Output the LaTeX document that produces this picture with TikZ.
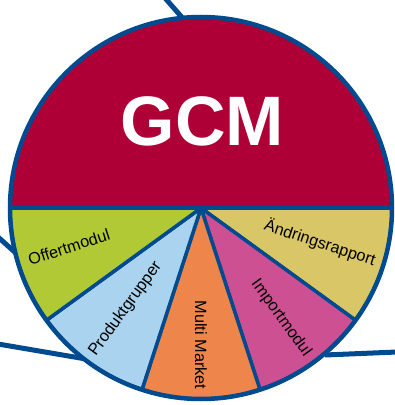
\documentclass[tikz,border=0pt]{standalone}
\usepackage{fontspec}
\setmainfont{Liberation Sans}
\usetikzlibrary{calc}
\definecolor{gcmred}{HTML}{AE0036}
\definecolor{rimblue}{HTML}{004A8F}
\definecolor{sgreen}{HTML}{B1C935}
\definecolor{sblue}{HTML}{A9D3EE}
\definecolor{sorange}{HTML}{EE854B}
\definecolor{spink}{HTML}{CD5093}
\definecolor{syellow}{HTML}{D9C767}
\begin{document}
\begin{tikzpicture}[x=1pt,y=1pt,
  rim/.style={draw=rimblue, line width=4.5pt},
  spoke/.style={draw=rimblue, line width=3.5pt, line join=round},
  link/.style={draw=rimblue, line width=5pt},
  lbl/.style={font=\fontsize{16.3}{17}\selectfont, inner sep=0pt, text=black}]
\useasboundingbox (0,0) rectangle (395,405);
\coordinate (c) at (201,197);
% outgoing links
\coordinate (t1) at (165,407); \coordinate (t2) at (186,383);
\coordinate (l1) at (-2,168);  \coordinate (l2) at (18,150);
\coordinate (m1) at (-2,61);   \coordinate (m2) at (86,46);
\coordinate (r1) at (397,53);  \coordinate (r2) at (325,50);
\draw[link] (t1) -- (t2);
\draw[link] (l1) -- (l2);
\draw[link] (m1) -- (m2);
\draw[link] (r1) -- (r2);
% top half
\fill[gcmred] ($(c)+(0:191)$) arc (0:180:191) -- cycle;
% bottom sectors
\foreach \a/\b/\col in {0/-36/syellow, -36/-72/spink, -72/-108/sorange, -108/-144/sblue, -144/-180/sgreen}{
  \filldraw[spoke, fill=\col] (c) -- ($(c)+(\a:191)$) arc (\a:\b:191) -- cycle;
}
\draw[spoke] ($(c)+(180:191)$) -- ($(c)+(0:191)$);
\draw[rim] (c) circle (191);
% labels
\node[font=\bfseries\fontsize{70}{70}\selectfont, text=white, inner sep=0pt] (gcm) at (202.5,283.5) {GCM};
\node[lbl, rotate=18] (offert) at (69,158) {Offertmodul};
\node[lbl, rotate=54] (produkt) at (125.5,96) {Produktgrupper};
\node[lbl, rotate=-90] (multi) at (201,60) {Multi Market};
\node[lbl, rotate=-54] (import) at (281,87) {Importmodul};
\node[lbl, rotate=-18] (andring) at (320,162) {Ändringsrapport};
\end{tikzpicture}
\end{document}
